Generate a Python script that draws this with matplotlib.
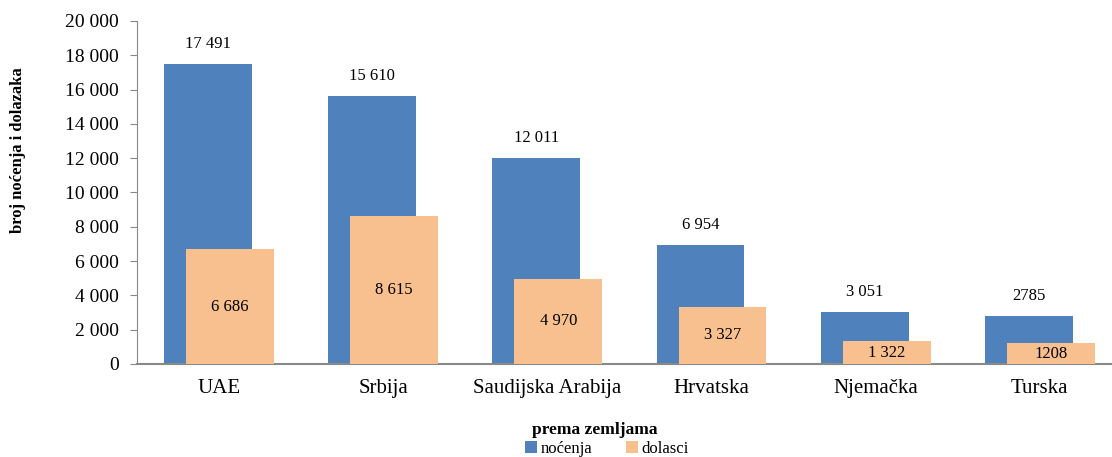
import matplotlib.pyplot as plt
import numpy as np

countries = ['UAE', 'Srbija', 'Saudijska Arabija', 'Hrvatska', 'Njemačka', 'Turska']
nocenja = [17491, 15610, 12011, 6954, 3051, 2785]
dolasci = [6686, 8615, 4970, 3327, 1322, 1208]
nocenja_labels = ['17 491', '15 610', '12 011', '6 954', '3 051', '2785']
dolasci_labels = ['6 686', '8 615', '4 970', '3 327', '1 322', '1208']
yticks = list(range(0, 20001, 2000))
ytick_labels = ['0', '2 000', '4 000', '6 000', '8 000', '10 000',
                '12 000', '14 000', '16 000', '18 000', '20 000']

blue = '#4f81bd'
orange = '#f9c08f'
serif = ['Liberation Serif', 'DejaVu Serif']

W, H = 1112, 457
fig = plt.figure(figsize=(W / 100, H / 100), dpi=100)
ax = fig.add_axes([137 / W, 1 - 364 / H, (W - 137) / W, (364 - 21) / H])

x = np.arange(len(countries))
w = 0.536
off = 0.067
ax.bar(x - off, nocenja, width=w, color=blue, zorder=2, label='noćenja')
ax.bar(x + off, dolasci, width=w, color=orange, zorder=3, label='dolasci')

for i in range(len(countries)):
    ax.text(x[i] - off, nocenja[i] + 700, nocenja_labels[i], ha='center', va='bottom',
            fontsize=12, family=serif)
    ax.text(x[i] + off, dolasci[i] / 2, dolasci_labels[i], ha='center', va='center',
            fontsize=12, family=serif, zorder=4)

ax.set_xlim(-0.5, 5.44)
ax.set_ylim(0, 20000)
ax.set_yticks(yticks)
ax.set_yticklabels(ytick_labels, fontsize=14, family=serif)
ax.set_xticks(x)
ax.set_xticklabels(countries, fontsize=15, family=serif)
ax.tick_params(axis='x', length=0, pad=11)
ax.tick_params(axis='y', length=5, color='#888888', pad=8)

for s in ['top', 'right']:
    ax.spines[s].set_visible(False)
ax.spines['left'].set_color('#888888')
ax.spines['bottom'].set_color('#888888')
ax.spines['bottom'].set_linewidth(1.5)

fig.text(18 / W, 1 - 150 / H, 'broj noćenja i dolazaka', rotation=90, ha='center', va='center',
         fontsize=12, fontweight='bold', family=serif)

fig.text(595 / W, 1 - 430 / H, 'prema zemljama', ha='center', va='center',
         fontsize=12.5, fontweight='bold', family=serif)
fig.legend(loc='center', bbox_to_anchor=(607 / W, 1 - 449 / H), ncol=2, frameon=False,
           prop={'family': serif, 'size': 12}, borderpad=0,
           handlelength=0.7, handleheight=0.7, handletextpad=0.25, columnspacing=2.0)

fig.savefig('out.png', dpi=100)
